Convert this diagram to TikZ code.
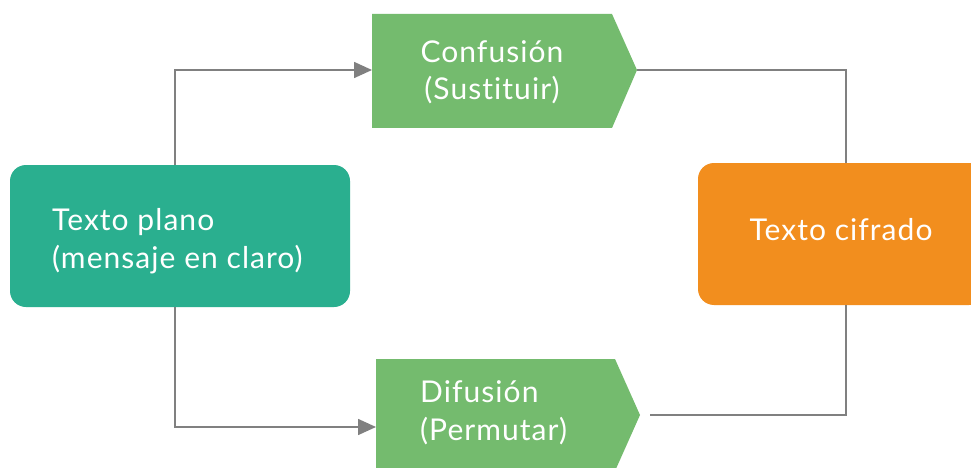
\documentclass[tikz,border=0pt]{standalone}
\usepackage{fontspec}
\setmainfont{Lato}[LetterSpace=3.5, Ligatures=NoCommon]
\usetikzlibrary{arrows.meta}
\definecolor{gbox}{HTML}{74BB6E}
\definecolor{tbox}{HTML}{2AAF8F}
\definecolor{obox}{HTML}{F28E1E}
\definecolor{lgray}{HTML}{808080}
\tikzset{
  lbl/.style={text=white, inner sep=0pt, align=left, font=\fontsize{30}{37.5}\selectfont},
  conn/.style={draw=lgray, line width=1.6pt},
  arr/.style={conn, -{Triangle[length=18pt,width=16pt]}},
}
\begin{document}
\begin{tikzpicture}[x=1pt,y=-1pt]
\useasboundingbox (0,0) rectangle (971,468);
\fill[white] (0,0) rectangle (971,468);
% shapes
\fill[tbox, rounded corners=16pt] (10,165) rectangle (350,307);
\fill[obox, rounded corners=16pt] (698,163) rectangle (985,305);
\fill[gbox] (372,14) -- (612,14) -- (637,70) -- (612,128) -- (372,128) -- cycle;
\fill[gbox] (376,359) -- (615,359) -- (640,415) -- (615,471) -- (376,471) -- cycle;
% anchor coordinates
\coordinate (pT) at (175,165);
\coordinate (pB) at (175,307);
\coordinate (cIn) at (372,70);
\coordinate (cOut) at (637,70);
\coordinate (dIn) at (376,427);
\coordinate (dOut) at (650,415);
\coordinate (oT) at (846,163);
\coordinate (oB) at (846,305);
% texts
\node[lbl, anchor=base west] (plano) at (52,268) {Texto plano\\(mensaje en claro)};
\node[lbl, align=center, anchor=base] (conf) at (492,100) {Confusión\\(Sustituir)};
\node[lbl, anchor=base west] (dif) at (420,440) {Difusión\\(Permutar)};
\node[lbl, anchor=base] (cif) at (841,240) {Texto cifrado};
% connectors
\draw[arr] (pT) |- (cIn);
\draw[arr] (pB) |- (dIn);
\draw[conn] (cOut) -| (oT);
\draw[conn] (dOut) -| (oB);
\end{tikzpicture}
\end{document}
